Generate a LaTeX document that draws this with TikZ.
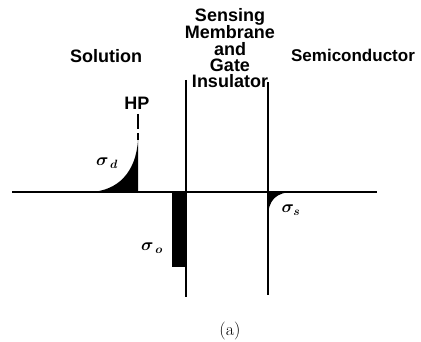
\documentclass[tikz,border=0pt]{standalone}
\usepackage{fontspec}
\setsansfont{Liberation Sans}
\usepackage{amsmath}
\begin{document}
\begin{tikzpicture}[x=1pt,y=-1pt,
  ln/.style={line width=2.2pt},
  lbl/.style={font=\sffamily\bfseries\fontsize{18}{16.3}\selectfont, inner sep=0pt, align=center},
  sig/.style={font=\fontsize{18}{18}\selectfont\boldmath, inner sep=0pt}]
\useasboundingbox (0,0) rectangle (421,342);
% axis and walls
\coordinate (axL) at (12,192);
\coordinate (axR) at (377,192);
\coordinate (w1t) at (186,80);
\coordinate (w1b) at (186,297);
\coordinate (w2t) at (268,82);
\coordinate (w2b) at (268,295);
\draw[ln] (axL) -- (axR);
\draw[ln] (w1t) -- (w1b);
\draw[ln] (w2t) -- (w2b);
% sigma_d
\fill (90,192) .. controls (118,191) and (136,172) .. (138,140) -- (138,192) -- cycle;
\draw[line width=1.6pt] (138,114) -- (138,129);
\draw[line width=1.6pt] (138,133) -- (138,140);
% sigma_o
\fill (172,192) rectangle (186,267);
% sigma_s
\fill (268,192) -- (268,218) .. controls (268,200) and (276,192) .. (294,192) -- cycle;
% labels
\node[lbl] (sol) at (106,56) {Solution};
\node[lbl, font=\sffamily\bfseries\fontsize{17}{17}\selectfont] (semi) at (353,55) {Semiconductor};
\node[lbl] (mem) at (230,48) {Sensing\\Membrane\\and\\Gate\\Insulator};
\node[lbl] (hp) at (137,103) {HP};
\node[sig] (sd) at (107,163) {$\sigma_{\,d}$};
\node[sig] (so) at (152,248) {$\sigma_{\,o}$};
\node[sig] (ss) at (291,210) {$\sigma_{s}$};
\node[font=\fontsize{18}{18}\selectfont, inner sep=0pt] (cap) at (230,331) {(a)};
\end{tikzpicture}
\end{document}
